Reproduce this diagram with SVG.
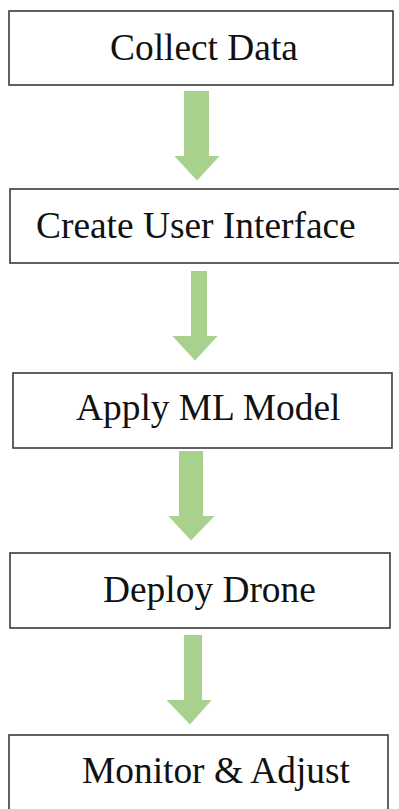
<svg xmlns="http://www.w3.org/2000/svg" width="399" height="809" viewBox="0 0 399 809">
<style>
.box{fill:#fff;stroke:#3a3a3a;stroke-width:1.6}
.lbl{font-family:"Liberation Serif","Times New Roman",serif;font-size:37.4px;fill:#111}
.arr{fill:#a9d18e;stroke:#fff;stroke-width:2}
</style>
<rect width="399" height="809" fill="#fff"/>
<g id="n1"><rect class="box" x="9" y="11" width="384" height="74"/><text class="lbl" x="110" y="60">Collect Data</text></g>
<g id="n2"><rect class="box" x="10" y="189" width="395" height="74"/><text class="lbl" x="36" y="238">Create User Interface</text></g>
<g id="n3"><rect class="box" x="13" y="373" width="379" height="75"/><text class="lbl" x="76" y="420">Apply ML Model</text></g>
<g id="n4"><rect class="box" x="10" y="553" width="380" height="75"/><text class="lbl" x="103" y="602">Deploy Drone</text></g>
<g id="n5"><rect class="box" x="9" y="735" width="379" height="90"/><text class="lbl" x="82" y="783">Monitor &amp; Adjust</text></g>
<g id="connectors">
<polygon class="arr" points="183,90 210,90 210,155 222,155 197,182 172,155 183,155"/>
<polygon class="arr" points="190,270 208,270 208,335 220,335 195,362 170,335 190,335"/>
<polygon class="arr" points="178,450 204,450 204,515 217,515 191,542 166,515 178,515"/>
<polygon class="arr" points="183,634 203,634 203,699 214,699 190,726 164,699 183,699"/>
</g>
</svg>
